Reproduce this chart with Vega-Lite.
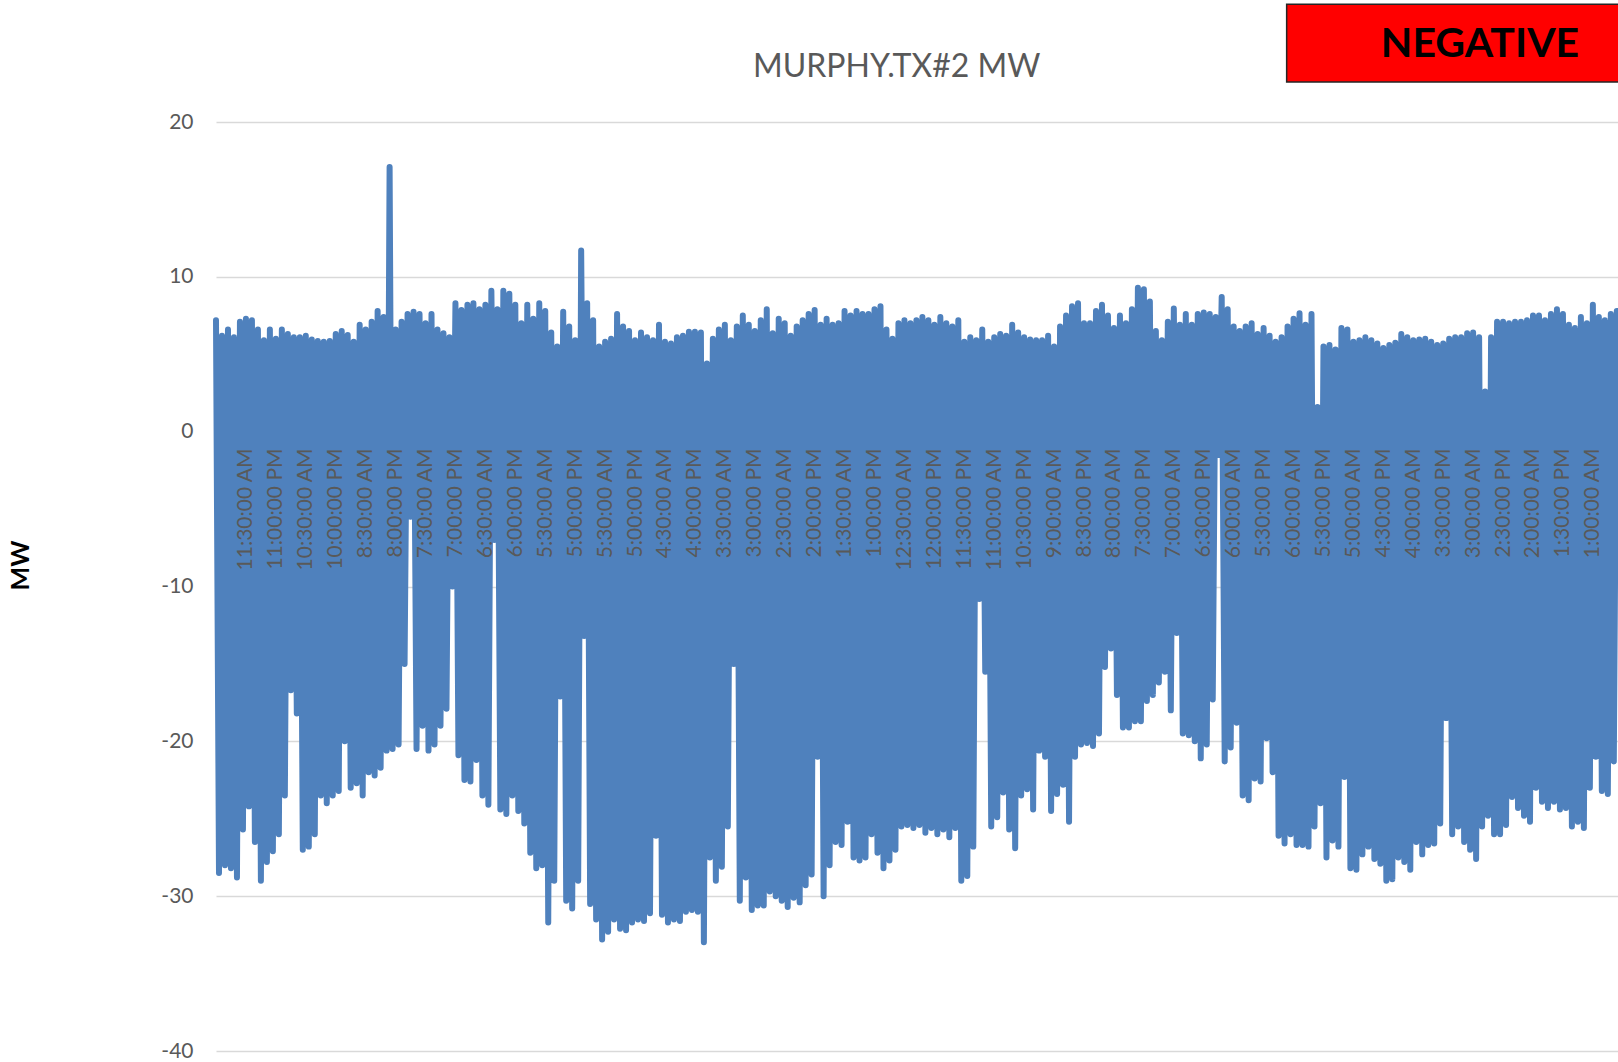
{
  "$schema": "https://vega.github.io/schema/vega-lite/v6.json",
  "width": 1402,
  "height": 929,
  "autosize": {"type": "none"},
  "padding": {"left": 216, "top": 122, "right": 0, "bottom": 11},
  "background": "white",
  "config": {"view": {"stroke": null}, "font": "Lato", "axis": {"labelOverlap": false}, "axisX": {"labelOverlap": false, "labelFlush": false, "labelBound": false, "tickCount": 100}},
  "layer": [
    {
      "data": {"values": [
{"i":0,"mw":7.2},{"i":1,"mw":-28.5},{"i":2,"mw":6.2},{"i":3,"mw":-28.0},{"i":4,"mw":6.6},{"i":5,"mw":-28.2},{"i":6,"mw":6.1},{"i":7,"mw":-28.8},{"i":8,"mw":7.1},{"i":9,"mw":-25.7},
{"i":10,"mw":7.3},{"i":11,"mw":-24.2},{"i":12,"mw":7.2},{"i":13,"mw":-26.5},{"i":14,"mw":6.6},{"i":15,"mw":-29.0},{"i":16,"mw":5.9},{"i":17,"mw":-27.8},{"i":18,"mw":6.6},{"i":19,"mw":-27.1},
{"i":20,"mw":6.0},{"i":21,"mw":-26.0},{"i":22,"mw":6.6},{"i":23,"mw":-23.5},{"i":24,"mw":6.3},{"i":25,"mw":-16.7},{"i":26,"mw":6.1},{"i":27,"mw":-18.2},{"i":28,"mw":6.1},{"i":29,"mw":-27.0},
{"i":30,"mw":6.2},{"i":31,"mw":-26.8},{"i":32,"mw":5.95},{"i":33,"mw":-26.0},{"i":34,"mw":5.85},{"i":35,"mw":-23.5},{"i":36,"mw":5.8},{"i":37,"mw":-24.0},{"i":38,"mw":5.85},{"i":39,"mw":-23.5},
{"i":40,"mw":6.3},{"i":41,"mw":-23.2},{"i":42,"mw":6.5},{"i":43,"mw":-20.0},{"i":44,"mw":6.25},{"i":45,"mw":-23.0},{"i":46,"mw":5.8},{"i":47,"mw":-22.7},{"i":48,"mw":6.9},{"i":49,"mw":-23.5},
{"i":50,"mw":6.6},{"i":51,"mw":-22.0},{"i":52,"mw":7.1},{"i":53,"mw":-22.2},{"i":54,"mw":7.8},{"i":55,"mw":-21.7},{"i":56,"mw":7.4},{"i":57,"mw":-20.6},{"i":58,"mw":17.1},{"i":59,"mw":-20.5},
{"i":60,"mw":6.6},{"i":61,"mw":-20.2},{"i":62,"mw":7.1},{"i":63,"mw":-15.0},{"i":64,"mw":7.6},{"i":65,"mw":-5.5},{"i":66,"mw":7.75},{"i":67,"mw":-20.5},{"i":68,"mw":7.6},{"i":69,"mw":-19.0},
{"i":70,"mw":7.0},{"i":71,"mw":-20.6},{"i":72,"mw":7.6},{"i":73,"mw":-20.2},{"i":74,"mw":6.6},{"i":75,"mw":-19.0},{"i":76,"mw":6.35},{"i":77,"mw":-17.9},{"i":78,"mw":6.1},{"i":79,"mw":-10.0},
{"i":80,"mw":8.3},{"i":81,"mw":-20.9},{"i":82,"mw":7.85},{"i":83,"mw":-22.5},{"i":84,"mw":8.2},{"i":85,"mw":-22.6},{"i":86,"mw":8.3},{"i":87,"mw":-21.2},{"i":88,"mw":7.9},{"i":89,"mw":-23.5},
{"i":90,"mw":8.2},{"i":91,"mw":-24.1},{"i":92,"mw":9.1},{"i":93,"mw":-7.0},{"i":94,"mw":7.9},{"i":95,"mw":-24.4},{"i":96,"mw":9.1},{"i":97,"mw":-24.7},{"i":98,"mw":8.9},{"i":99,"mw":-23.5},
{"i":100,"mw":8.2},{"i":101,"mw":-24.5},{"i":102,"mw":7.0},{"i":103,"mw":-25.3},{"i":104,"mw":8.2},{"i":105,"mw":-27.2},{"i":106,"mw":7.3},{"i":107,"mw":-28.2},{"i":108,"mw":8.3},{"i":109,"mw":-28.0},
{"i":110,"mw":7.8},{"i":111,"mw":-31.7},{"i":112,"mw":6.4},{"i":113,"mw":-29.0},{"i":114,"mw":5.5},{"i":115,"mw":-17.1},{"i":116,"mw":7.75},{"i":117,"mw":-30.3},{"i":118,"mw":6.8},{"i":119,"mw":-30.8},
{"i":120,"mw":5.9},{"i":121,"mw":-29.0},{"i":122,"mw":11.7},{"i":123,"mw":-13.2},{"i":124,"mw":8.3},{"i":125,"mw":-30.5},{"i":126,"mw":7.2},{"i":127,"mw":-31.5},{"i":128,"mw":5.5},{"i":129,"mw":-32.8},
{"i":130,"mw":5.8},{"i":131,"mw":-32.3},{"i":132,"mw":6.0},{"i":133,"mw":-31.5},{"i":134,"mw":7.6},{"i":135,"mw":-32.1},{"i":136,"mw":6.8},{"i":137,"mw":-32.2},{"i":138,"mw":6.5},{"i":139,"mw":-31.7},
{"i":140,"mw":5.9},{"i":141,"mw":-31.5},{"i":142,"mw":6.4},{"i":143,"mw":-31.6},{"i":144,"mw":6.1},{"i":145,"mw":-31.1},{"i":146,"mw":5.9},{"i":147,"mw":-26.1},{"i":148,"mw":6.9},{"i":149,"mw":-31.2},
{"i":150,"mw":5.8},{"i":151,"mw":-31.7},{"i":152,"mw":5.7},{"i":153,"mw":-31.5},{"i":154,"mw":6.1},{"i":155,"mw":-31.6},{"i":156,"mw":6.2},{"i":157,"mw":-31.0},{"i":158,"mw":6.45},{"i":159,"mw":-30.9},
{"i":160,"mw":6.45},{"i":161,"mw":-31.0},{"i":162,"mw":6.4},{"i":163,"mw":-32.97},{"i":164,"mw":4.4},{"i":165,"mw":-27.5},{"i":166,"mw":6.0},{"i":167,"mw":-29.0},{"i":168,"mw":6.6},{"i":169,"mw":-28.1},
{"i":170,"mw":6.9},{"i":171,"mw":-25.5},{"i":172,"mw":5.9},{"i":173,"mw":-15.0},{"i":174,"mw":6.8},{"i":175,"mw":-30.3},{"i":176,"mw":7.5},{"i":177,"mw":-28.8},{"i":178,"mw":6.9},{"i":179,"mw":-30.9},
{"i":180,"mw":6.5},{"i":181,"mw":-30.6},{"i":182,"mw":7.2},{"i":183,"mw":-30.6},{"i":184,"mw":7.9},{"i":185,"mw":-29.7},{"i":186,"mw":6.35},{"i":187,"mw":-30.0},{"i":188,"mw":7.3},{"i":189,"mw":-30.3},
{"i":190,"mw":7.0},{"i":191,"mw":-30.7},{"i":192,"mw":6.2},{"i":193,"mw":-30.1},{"i":194,"mw":6.8},{"i":195,"mw":-30.4},{"i":196,"mw":7.2},{"i":197,"mw":-29.3},{"i":198,"mw":7.6},{"i":199,"mw":-28.6},
{"i":200,"mw":7.85},{"i":201,"mw":-21.0},{"i":202,"mw":6.9},{"i":203,"mw":-30.0},{"i":204,"mw":7.3},{"i":205,"mw":-28.0},{"i":206,"mw":6.9},{"i":207,"mw":-26.5},{"i":208,"mw":7.0},{"i":209,"mw":-26.7},
{"i":210,"mw":7.8},{"i":211,"mw":-25.2},{"i":212,"mw":7.5},{"i":213,"mw":-27.5},{"i":214,"mw":7.8},{"i":215,"mw":-27.7},{"i":216,"mw":7.6},{"i":217,"mw":-27.5},{"i":218,"mw":7.6},{"i":219,"mw":-26.0},
{"i":220,"mw":7.9},{"i":221,"mw":-27.2},{"i":222,"mw":8.1},{"i":223,"mw":-28.2},{"i":224,"mw":6.6},{"i":225,"mw":-27.7},{"i":226,"mw":6.0},{"i":227,"mw":-27.0},{"i":228,"mw":7.0},{"i":229,"mw":-25.5},
{"i":230,"mw":7.2},{"i":231,"mw":-25.4},{"i":232,"mw":7.0},{"i":233,"mw":-25.6},{"i":234,"mw":7.2},{"i":235,"mw":-25.4},{"i":236,"mw":7.4},{"i":237,"mw":-25.9},{"i":238,"mw":7.2},{"i":239,"mw":-25.6},
{"i":240,"mw":6.9},{"i":241,"mw":-26.0},{"i":242,"mw":7.4},{"i":243,"mw":-25.7},{"i":244,"mw":7.0},{"i":245,"mw":-26.2},{"i":246,"mw":6.8},{"i":247,"mw":-25.6},{"i":248,"mw":7.2},{"i":249,"mw":-29.0},
{"i":250,"mw":5.8},{"i":251,"mw":-28.7},{"i":252,"mw":6.1},{"i":253,"mw":-26.8},{"i":254,"mw":5.9},{"i":255,"mw":-10.8},{"i":256,"mw":6.6},{"i":257,"mw":-15.5},{"i":258,"mw":5.8},{"i":259,"mw":-25.5},
{"i":260,"mw":6.1},{"i":261,"mw":-24.9},{"i":262,"mw":6.3},{"i":263,"mw":-23.3},{"i":264,"mw":6.2},{"i":265,"mw":-25.7},{"i":266,"mw":6.9},{"i":267,"mw":-26.9},{"i":268,"mw":6.4},{"i":269,"mw":-23.5},
{"i":270,"mw":6.1},{"i":271,"mw":-23.1},{"i":272,"mw":5.95},{"i":273,"mw":-24.4},{"i":274,"mw":5.9},{"i":275,"mw":-20.6},{"i":276,"mw":5.9},{"i":277,"mw":-21.0},{"i":278,"mw":6.2},{"i":279,"mw":-24.5},
{"i":280,"mw":5.5},{"i":281,"mw":-23.4},{"i":282,"mw":6.8},{"i":283,"mw":-22.8},{"i":284,"mw":7.5},{"i":285,"mw":-25.2},{"i":286,"mw":8.1},{"i":287,"mw":-21.0},{"i":288,"mw":8.3},{"i":289,"mw":-20.2},
{"i":290,"mw":7.0},{"i":291,"mw":-20.1},{"i":292,"mw":7.0},{"i":293,"mw":-20.3},{"i":294,"mw":7.8},{"i":295,"mw":-19.5},{"i":296,"mw":8.2},{"i":297,"mw":-15.2},{"i":298,"mw":7.5},{"i":299,"mw":-14.0},
{"i":300,"mw":6.7},{"i":301,"mw":-17.0},{"i":302,"mw":7.5},{"i":303,"mw":-19.1},{"i":304,"mw":7.0},{"i":305,"mw":-19.1},{"i":306,"mw":7.9},{"i":307,"mw":-18.7},{"i":308,"mw":9.3},{"i":309,"mw":-18.7},
{"i":310,"mw":9.2},{"i":311,"mw":-17.4},{"i":312,"mw":8.4},{"i":313,"mw":-17.0},{"i":314,"mw":6.5},{"i":315,"mw":-16.2},{"i":316,"mw":5.9},{"i":317,"mw":-15.5},{"i":318,"mw":7.1},{"i":319,"mw":-18.0},
{"i":320,"mw":7.96},{"i":321,"mw":-13.0},{"i":322,"mw":6.9},{"i":323,"mw":-19.5},{"i":324,"mw":7.6},{"i":325,"mw":-19.6},{"i":326,"mw":6.9},{"i":327,"mw":-20.0},{"i":328,"mw":7.6},{"i":329,"mw":-21.1},
{"i":330,"mw":7.7},{"i":331,"mw":-20.2},{"i":332,"mw":7.6},{"i":333,"mw":-17.3},{"i":334,"mw":7.4},{"i":335,"mw":-1.5},{"i":336,"mw":8.7},{"i":337,"mw":-21.3},{"i":338,"mw":7.9},{"i":339,"mw":-20.4},
{"i":340,"mw":6.8},{"i":341,"mw":-18.8},{"i":342,"mw":6.5},{"i":343,"mw":-23.5},{"i":344,"mw":6.8},{"i":345,"mw":-23.8},{"i":346,"mw":7.0},{"i":347,"mw":-22.4},{"i":348,"mw":6.3},{"i":349,"mw":-22.6},
{"i":350,"mw":6.7},{"i":351,"mw":-19.8},{"i":352,"mw":6.2},{"i":353,"mw":-22.0},{"i":354,"mw":5.8},{"i":355,"mw":-26.1},{"i":356,"mw":6.1},{"i":357,"mw":-26.6},{"i":358,"mw":6.8},{"i":359,"mw":-26.0},
{"i":360,"mw":7.3},{"i":361,"mw":-26.7},{"i":362,"mw":7.64},{"i":363,"mw":-26.7},{"i":364,"mw":6.9},{"i":365,"mw":-26.8},{"i":366,"mw":7.6},{"i":367,"mw":-25.5},{"i":368,"mw":1.6},{"i":369,"mw":-24.0},
{"i":370,"mw":5.5},{"i":371,"mw":-27.5},{"i":372,"mw":5.6},{"i":373,"mw":-26.4},{"i":374,"mw":5.3},{"i":375,"mw":-26.8},{"i":376,"mw":6.7},{"i":377,"mw":-22.3},{"i":378,"mw":6.6},{"i":379,"mw":-28.2},
{"i":380,"mw":5.8},{"i":381,"mw":-28.3},{"i":382,"mw":5.9},{"i":383,"mw":-27.3},{"i":384,"mw":6.1},{"i":385,"mw":-26.8},{"i":386,"mw":5.9},{"i":387,"mw":-27.6},{"i":388,"mw":5.7},{"i":389,"mw":-27.9},
{"i":390,"mw":5.4},{"i":391,"mw":-29.0},{"i":392,"mw":5.6},{"i":393,"mw":-28.9},{"i":394,"mw":5.75},{"i":395,"mw":-27.5},{"i":396,"mw":6.3},{"i":397,"mw":-27.8},{"i":398,"mw":6.1},{"i":399,"mw":-28.3},
{"i":400,"mw":5.9},{"i":401,"mw":-26.5},{"i":402,"mw":5.95},{"i":403,"mw":-27.3},{"i":404,"mw":6.0},{"i":405,"mw":-26.7},{"i":406,"mw":5.8},{"i":407,"mw":-26.6},{"i":408,"mw":5.6},{"i":409,"mw":-25.3},
{"i":410,"mw":5.7},{"i":411,"mw":-18.5},{"i":412,"mw":6.0},{"i":413,"mw":-26.0},{"i":414,"mw":6.1},{"i":415,"mw":-25.5},{"i":416,"mw":6.1},{"i":417,"mw":-26.5},{"i":418,"mw":6.35},{"i":419,"mw":-27.0},
{"i":420,"mw":6.4},{"i":421,"mw":-27.6},{"i":422,"mw":6.1},{"i":423,"mw":-25.5},{"i":424,"mw":2.6},{"i":425,"mw":-24.8},{"i":426,"mw":6.1},{"i":427,"mw":-26.0},{"i":428,"mw":7.1},{"i":429,"mw":-26.0},
{"i":430,"mw":7.1},{"i":431,"mw":-25.4},{"i":432,"mw":7.0},{"i":433,"mw":-23.6},{"i":434,"mw":7.1},{"i":435,"mw":-24.3},{"i":436,"mw":7.1},{"i":437,"mw":-24.8},{"i":438,"mw":7.2},{"i":439,"mw":-25.2},
{"i":440,"mw":7.5},{"i":441,"mw":-23.0},{"i":442,"mw":7.5},{"i":443,"mw":-23.9},{"i":444,"mw":7.2},{"i":445,"mw":-24.3},{"i":446,"mw":7.6},{"i":447,"mw":-23.9},{"i":448,"mw":7.9},{"i":449,"mw":-24.4},
{"i":450,"mw":7.6},{"i":451,"mw":-24.3},{"i":452,"mw":6.9},{"i":453,"mw":-25.5},{"i":454,"mw":6.7},{"i":455,"mw":-25.2},{"i":456,"mw":7.4},{"i":457,"mw":-25.6},{"i":458,"mw":7.0},{"i":459,"mw":-23.0},
{"i":460,"mw":8.2},{"i":461,"mw":-21.0},{"i":462,"mw":7.4},{"i":463,"mw":-23.2},{"i":464,"mw":7.2},{"i":465,"mw":-23.4},{"i":466,"mw":7.6},{"i":467,"mw":-21.3},{"i":468,"mw":7.8}
      ]},
      "mark": {"type": "line", "color": "#4F81BD", "strokeWidth": 6, "strokeCap": "round", "strokeJoin": "round"},
      "encoding": {
        "x": {
          "field": "i", "type": "quantitative",
          "scale": {"domain": [0, 468.4], "nice": false, "zero": false},
          "axis": {
            "title": null, "orient": "bottom", "offset": -619, "domain": false, "ticks": false, "tickSize": 0, "grid": false, "tickCount": 100,
            "values": [10,20,30,40,50,60,70,80,90,100,110,120,130,140,150,160,170,180,190,200,210,220,230,240,250,260,270,280,290,300,310,320,330,340,350,360,370,380,390,400,410,420,430,440,450,460],
            "labelExpr": "['11:30:00 AM','11:00:00 PM','10:30:00 AM','10:00:00 PM','8:30:00 AM','8:00:00 PM','7:30:00 AM','7:00:00 PM','6:30:00 AM','6:00:00 PM','5:30:00 AM','5:00:00 PM','5:30:00 AM','5:00:00 PM','4:30:00 AM','4:00:00 PM','3:30:00 AM','3:00:00 PM','2:30:00 AM','2:00:00 PM','1:30:00 AM','1:00:00 PM','12:30:00 AM','12:00:00 PM','11:30:00 PM','11:00:00 AM','10:30:00 PM','9:00:00 AM','8:30:00 PM','8:00:00 AM','7:30:00 PM','7:00:00 AM','6:30:00 PM','6:00:00 AM','5:30:00 PM','6:00:00 AM','5:30:00 PM','5:00:00 AM','4:30:00 PM','4:00:00 AM','3:30:00 PM','3:00:00 AM','2:30:00 PM','2:00:00 AM','1:30:00 PM','1:00:00 AM'][round(datum.value/10)-1]",
            "labelAngle": -90, "labelAlign": "right", "labelBaseline": "middle", "labelPadding": 16,
            "labelFont": "Lato", "labelFontSize": 21, "labelColor": "#595959",
            "labelOverlap": false, "labelFlush": false, "labelBound": false, "zindex": 1
          }
        },
        "y": {
          "field": "mw", "type": "quantitative",
          "scale": {"domain": [-40, 20], "nice": false, "zero": false},
          "axis": {
            "title": "MW", "titleFont": "Lato", "titleFontWeight": "bold", "titleFontSize": 25, "titleColor": "black",
            "titleX": -196, "titleY": 443, "titleAngle": -90, "titleAlign": "center", "titleBaseline": "middle",
            "values": [-40, -30, -20, -10, 0, 10, 20],
            "labelExpr": "datum.value + ''",
            "labelFont": "Lato", "labelFontSize": 21, "labelColor": "#595959", "labelPadding": 23,
            "domain": false, "ticks": false, "grid": true, "gridColor": "#d9d9d9", "gridWidth": 1.5, "zindex": 0
          }
        }
      }
    },
    {
      "data": {"values": [{"title": "MURPHY.TX#2 MW"}]},
      "mark": {"type": "text", "font": "Lato", "fontSize": 32, "color": "#595959", "align": "center", "baseline": "alphabetic"},
      "encoding": {
        "x": {"datum": 227.4, "type": "quantitative"},
        "y": {"datum": 22.91, "type": "quantitative"},
        "text": {"field": "title"}
      }
    },
    {
      "data": {"values": [{"label": "NEGATIVE"}]},
      "mark": {"type": "rect", "fill": "#FF0000", "stroke": "#262626", "strokeWidth": 1.5},
      "encoding": {
        "x": {"datum": 357.7, "type": "quantitative"},
        "x2": {"datum": 472},
        "y": {"datum": 27.6, "type": "quantitative"},
        "y2": {"datum": 22.58}
      }
    },
    {
      "data": {"values": [{"label": "NEGATIVE"}]},
      "mark": {"type": "text", "font": "Lato", "fontWeight": "bold", "fontSize": 41, "color": "black", "align": "center", "baseline": "alphabetic"},
      "encoding": {
        "x": {"datum": 422.3, "type": "quantitative"},
        "y": {"datum": 24.18, "type": "quantitative"},
        "text": {"field": "label"}
      }
    }
  ]
}
